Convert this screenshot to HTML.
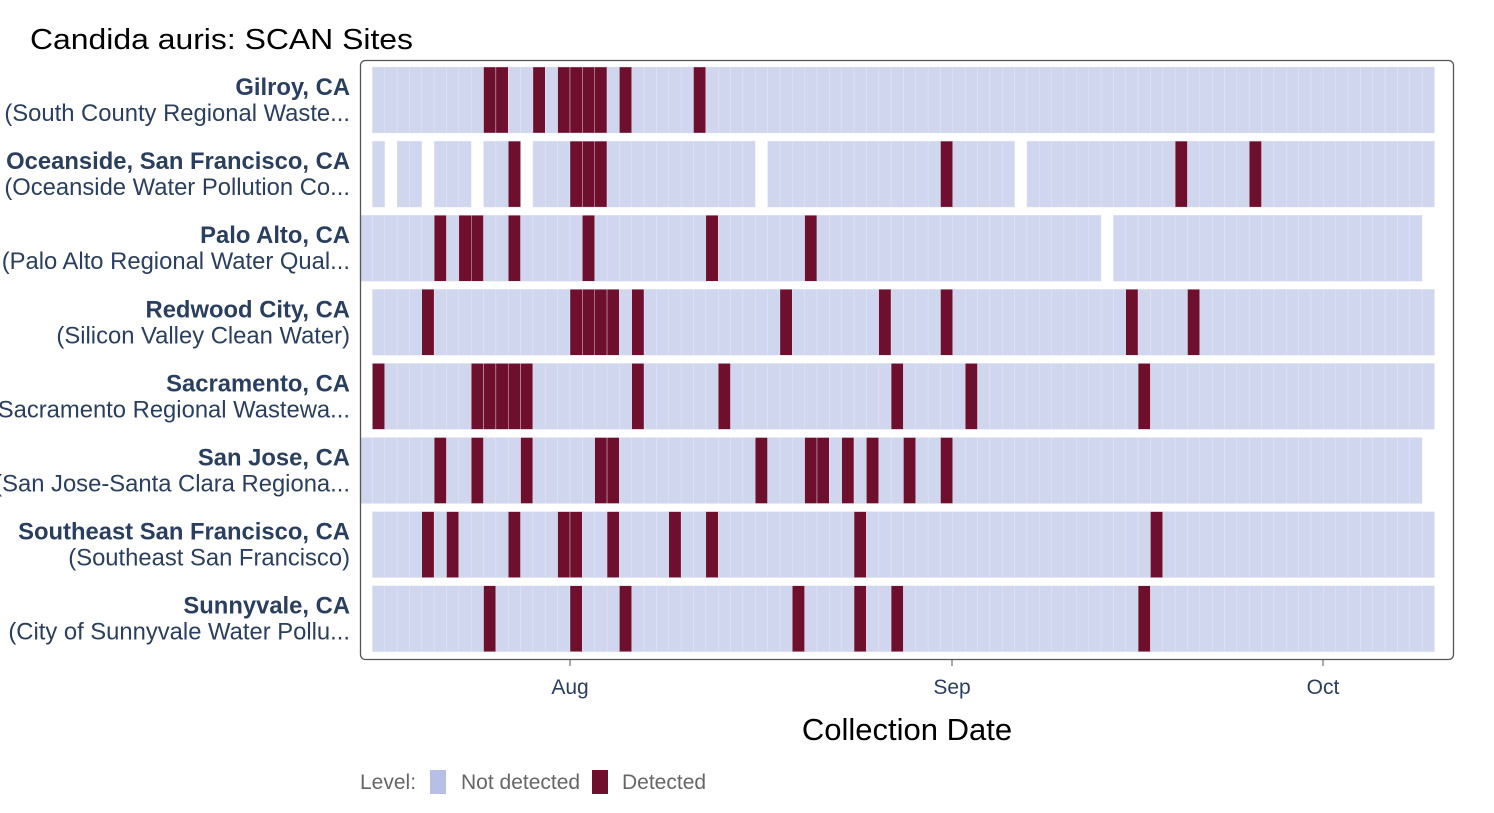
<!DOCTYPE html>
<html><head><meta charset="utf-8"><style>
body{margin:0;background:#fff;}
svg text{font-family:"Liberation Sans",Arial,sans-serif;}
</style></head><body>
<svg id="s" width="1494" height="808" xmlns="http://www.w3.org/2000/svg">
<text x="30" y="49" font-size="29" fill="#000" textLength="383" lengthAdjust="spacingAndGlyphs">Candida auris: SCAN Sites</text>
<g id="cells"></g>
<rect x="360.5" y="60.5" width="1093" height="599" rx="5" fill="none" stroke="#555" stroke-width="1.3"/>
<g stroke="#555" stroke-width="1"><line x1="570" y1="660" x2="570" y2="666"/><line x1="952" y1="660" x2="952" y2="666"/><line x1="1323" y1="660" x2="1323" y2="666"/></g>
<g font-size="21" fill="#2a3f5f" text-anchor="middle"><text x="570" y="694">Aug</text><text x="952" y="694">Sep</text><text x="1323" y="694">Oct</text></g>
<text x="907" y="740" font-size="31" text-anchor="middle" fill="#000">Collection Date</text>
<g font-size="23.8" fill="#2a3f5f" text-anchor="end" id="labels"></g>
<text x="360" y="789" font-size="21" fill="#666">Level:</text>
<rect x="430" y="770" width="16" height="24" fill="#b6c0e6"/>
<text x="461" y="789" font-size="21" fill="#666">Not detected</text>
<rect x="592" y="770" width="16" height="24" fill="#6e0f2e"/>
<text x="622" y="789" font-size="21" fill="#666">Detected</text>
</svg>
<script>
const ns="http://www.w3.org/2000/svg";
const rows=[
["Gilroy, CA","(South County Regional Waste...",[[-16,69]],[-7,-6,-3,-1,0,1,2,4,10]],
["Oceanside, San Francisco, CA","(Oceanside Water Pollution Co...",[[-16,-16],[-14,-13],[-11,-9],[-7,-5],[-3,14],[16,35],[37,69]],[-5,0,1,2,30,49,55]],
["Palo Alto, CA","(Palo Alto Regional Water Qual...",[[-17,42],[44,68]],[-11,-9,-8,-5,1,11,19]],
["Redwood City, CA","(Silicon Valley Clean Water)",[[-16,69]],[-12,0,1,2,3,5,17,25,30,45,50]],
["Sacramento, CA","(Sacramento Regional Wastewa...",[[-16,69]],[-16,-8,-7,-6,-5,-4,5,12,26,32,46]],
["San Jose, CA","(San Jose-Santa Clara Regiona...",[[-17,68]],[-11,-8,-4,2,3,15,19,20,22,24,27,30]],
["Southeast San Francisco, CA","(Southeast San Francisco)",[[-16,69]],[-12,-10,-5,-1,0,3,8,11,23,47]],
["Sunnyvale, CA","(City of Sunnyvale Water Pollu...",[[-16,69]],[-7,0,4,18,23,26,46]]
];
const g=document.getElementById("cells"),lg=document.getElementById("labels");
const W=12.35;
rows.forEach((r,i)=>{
 const y=67+i*74.1,h=66;
 r[2].forEach(([a,b])=>{for(let d=a;d<=b;d++){
  const e=document.createElementNS(ns,"rect");
  e.setAttribute("x",570+d*W);e.setAttribute("y",y);e.setAttribute("width",W);e.setAttribute("height",h);
  e.setAttribute("fill",r[3].includes(d)?"#6e0f2e":"#d0d6ee");
  e.setAttribute("stroke","#e6e9f6");e.setAttribute("stroke-width","0.4");
  g.appendChild(e);}});
 const t1=document.createElementNS(ns,"text");t1.setAttribute("x",350);t1.setAttribute("y",y+28);t1.setAttribute("font-weight","bold");t1.textContent=r[0];lg.appendChild(t1);
 const t2=document.createElementNS(ns,"text");t2.setAttribute("x",350);t2.setAttribute("y",y+54);t2.textContent=r[1];lg.appendChild(t2);
});
</script>
</body></html>
